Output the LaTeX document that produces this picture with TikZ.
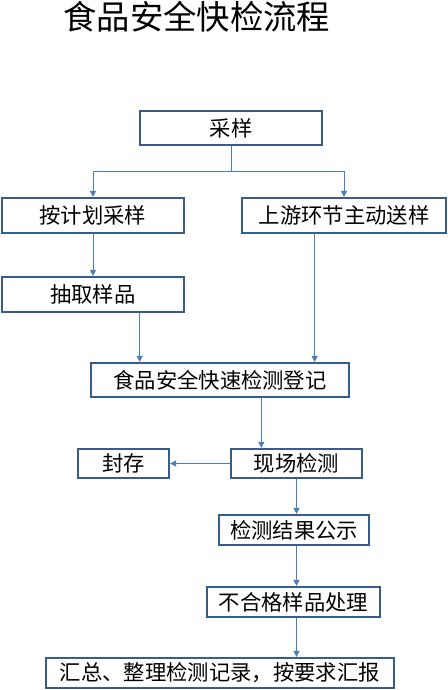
\documentclass[tikz,border=0pt]{standalone}
\usepackage{fontspec}
\newfontfamily\cjk{Noto Sans CJK SC}
\usetikzlibrary{arrows.meta}
\definecolor{boxblue}{HTML}{385D8A}
\definecolor{lineblue}{HTML}{4A7EBB}

\begin{document}
\begin{tikzpicture}[x=0.75pt, y=-0.75pt
	, every node/.style={
	rectangle
	, inner sep=0pt
	, font=\cjk\fontsize{16pt}{19pt}\selectfont
}
	, box/.style={draw=boxblue, line width=1.6pt}
	, link/.style={draw=lineblue, line width=0.75pt, -{Triangle[length=4.5pt, width=4.5pt]}}
]
\useasboundingbox (0,0) rectangle (448,690);

\node[font=\cjk\fontsize{25pt}{30pt}\selectfont](title) at(197,17) {食品安全快检流程};

\foreach [count=\i] \x/\y/\w/\h/\name in {
	231/128/182/34/采样
	, 93/215.5/182/35/按计划采样
	, 344/215.5/204/35/上游环节主动送样
	, 93/294.5/182/35/抽取样品
	, 220/380/258/34/食品安全快速检测登记
	, 296.5/463.5/131/29/现场检测
	, 123.5/463.5/91/29/封存
	, 294/530/150/30/检测结果公示
	, 293.5/602/173/30/不合格样品处理
	, 220/673/348/30/汇总、整理检测记录，按要求汇报
}{
	\node[box, minimum width=0.75pt*\w, minimum height=0.75pt*\h](\i) at(\x, \y) {\name};
}

% split below the first box
\coordinate (split) at(231,171);
\draw[lineblue, line width=0.75pt] (1) -- (split);
\draw[link] (split) -| (2);
\draw[link] (split) -| (3);

\draw[link] (2) -- (4);
\draw[link] ([xshift=35pt]4.south) -- ([xshift=35pt]4.south |- 5.north);
\draw[link] ([xshift=-22pt]3.south) -- ([xshift=-22pt]3.south |- 5.north);
\draw[link] ([xshift=31pt]5.south) -- ([xshift=31pt]5.south |- 6.north);
\draw[link] (6) -- (7);
\draw[link] (6.south) -- (6.south |- 8.north);
\draw[link] (8.south -| 6.south) -- (9.north -| 6.south);
\draw[link] (9.south -| 6.south) -- (10.north -| 6.south);

\end{tikzpicture}
\end{document}
